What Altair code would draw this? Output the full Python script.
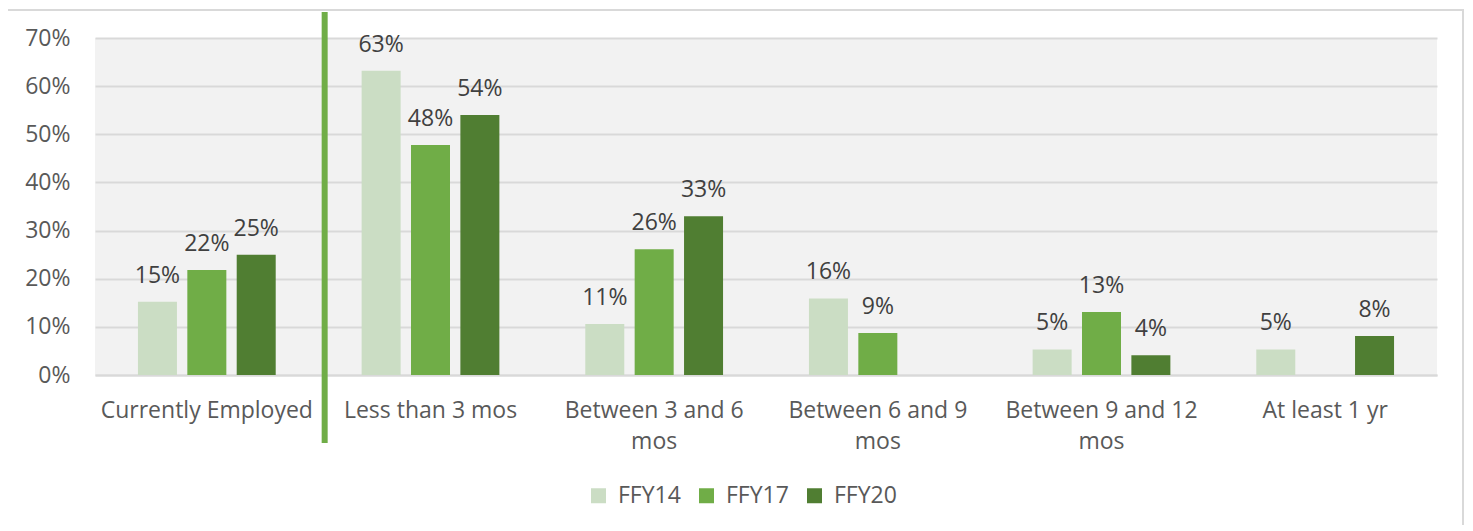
import altair as alt
import pandas as pd

categories = ["Currently Employed", "Less than 3 mos", "Between 3 and 6 mos",
              "Between 6 and 9 mos", "Between 9 and 12 mos", "At least 1 yr"]
series = ["FFY14", "FFY17", "FFY20"]
ffy14 = [15.2, 63.2, 10.6, 15.9, 5.3, 5.3]
ffy17 = [21.8, 47.8, 26.1, 8.7, 13.1, None]
ffy20 = [25.0, 54.0, 33.0, None, 4.1, 8.1]
colors = ["#CBDDC4", "#70AD47", "#507E32"]
y_ticks = [0, 0.1, 0.2, 0.3, 0.4, 0.5, 0.6, 0.7]
divider_category = ["Less than 3 mos"]

rows = []
for s, vals in zip(series, [ffy14, ffy17, ffy20]):
    for c, v in zip(categories, vals):
        if v is not None:
            rows.append({"cat": c, "series": s, "value": v / 100})
df = pd.DataFrame(rows)
div_df = pd.DataFrame({"cat": divider_category})

FONT = "Open Sans"
FS = 23
W, H = 1342, 337

x_enc = alt.X(
    "cat:N", sort=categories,
    scale=alt.Scale(paddingInner=0, paddingOuter=0),
    axis=alt.Axis(
        title=None, labelAngle=0, ticks=False, domain=True,
        domainColor="#D9D9D9", domainWidth=2,
        labelFontSize=FS, labelColor="#595959", labelFont=FONT,
        labelPadding=24, labelLineHeight=31, labelLimit=0,
        labelExpr="length(datum.label) > 18 ? [substring(datum.label, 0, lastindexof(datum.label, ' ')), substring(datum.label, lastindexof(datum.label, ' ') + 1)] : datum.label",
    ),
)
xoff = alt.XOffset("series:N", sort=series,
                   scale=alt.Scale(paddingInner=0.21, paddingOuter=0.87))
y_enc = alt.Y(
    "value:Q",
    scale=alt.Scale(domain=[0, 0.7], nice=False),
    axis=alt.Axis(
        title=None, values=y_ticks, format=".0%", domain=False, ticks=False,
        grid=True, gridColor="#D9D9D9", gridWidth=2,
        labelFontSize=FS, labelColor="#595959", labelFont=FONT, labelPadding=25,
    ),
)

bars = alt.Chart(df).mark_bar().encode(
    x=x_enc, xOffset=xoff, y=y_enc,
    color=alt.Color(
        "series:N", sort=series,
        scale=alt.Scale(domain=series, range=colors),
        legend=alt.Legend(
            title=None, orient="none", legendX=492, legendY=446,
            direction="horizontal", symbolType="square", symbolSize=225,
            symbolStrokeWidth=0, labelFontSize=FS, labelColor="#595959",
            labelFont=FONT, labelOffset=8, columnPadding=14,
        ),
    ),
)

labels = alt.Chart(df).mark_text(
    baseline="bottom", dy=-14, fontSize=FS, color="#404040", font=FONT
).encode(
    x=alt.X("cat:N", sort=categories), xOffset=xoff, y="value:Q",
    text=alt.Text("value:Q", format=".0%"),
)

divider = alt.Chart(div_df).mark_rule(
    color="#70AD47", strokeWidth=6, xOffset=6
).encode(
    x=alt.X("cat:N", sort=categories, bandPosition=0),
    y=alt.value(-26), y2=alt.value(H + 68),
)

border = alt.Chart(div_df).mark_rect(
    fillOpacity=0, stroke="#D9D9D9", strokeWidth=2
).encode(
    x=alt.value(-88), x2=alt.value(1368), y=alt.value(-28), y2=alt.value(520),
)

chart = alt.layer(border, bars, labels, divider).properties(
    width=W, height=H,
    autosize=alt.AutoSizeParams(type="none"),
    padding={"left": 87, "top": 30, "right": 27, "bottom": 150},
    background="white",
).configure_view(fill="#F2F2F2", stroke=None)

chart.save("out.html", embed_options={"renderer": "svg", "actions": False})
